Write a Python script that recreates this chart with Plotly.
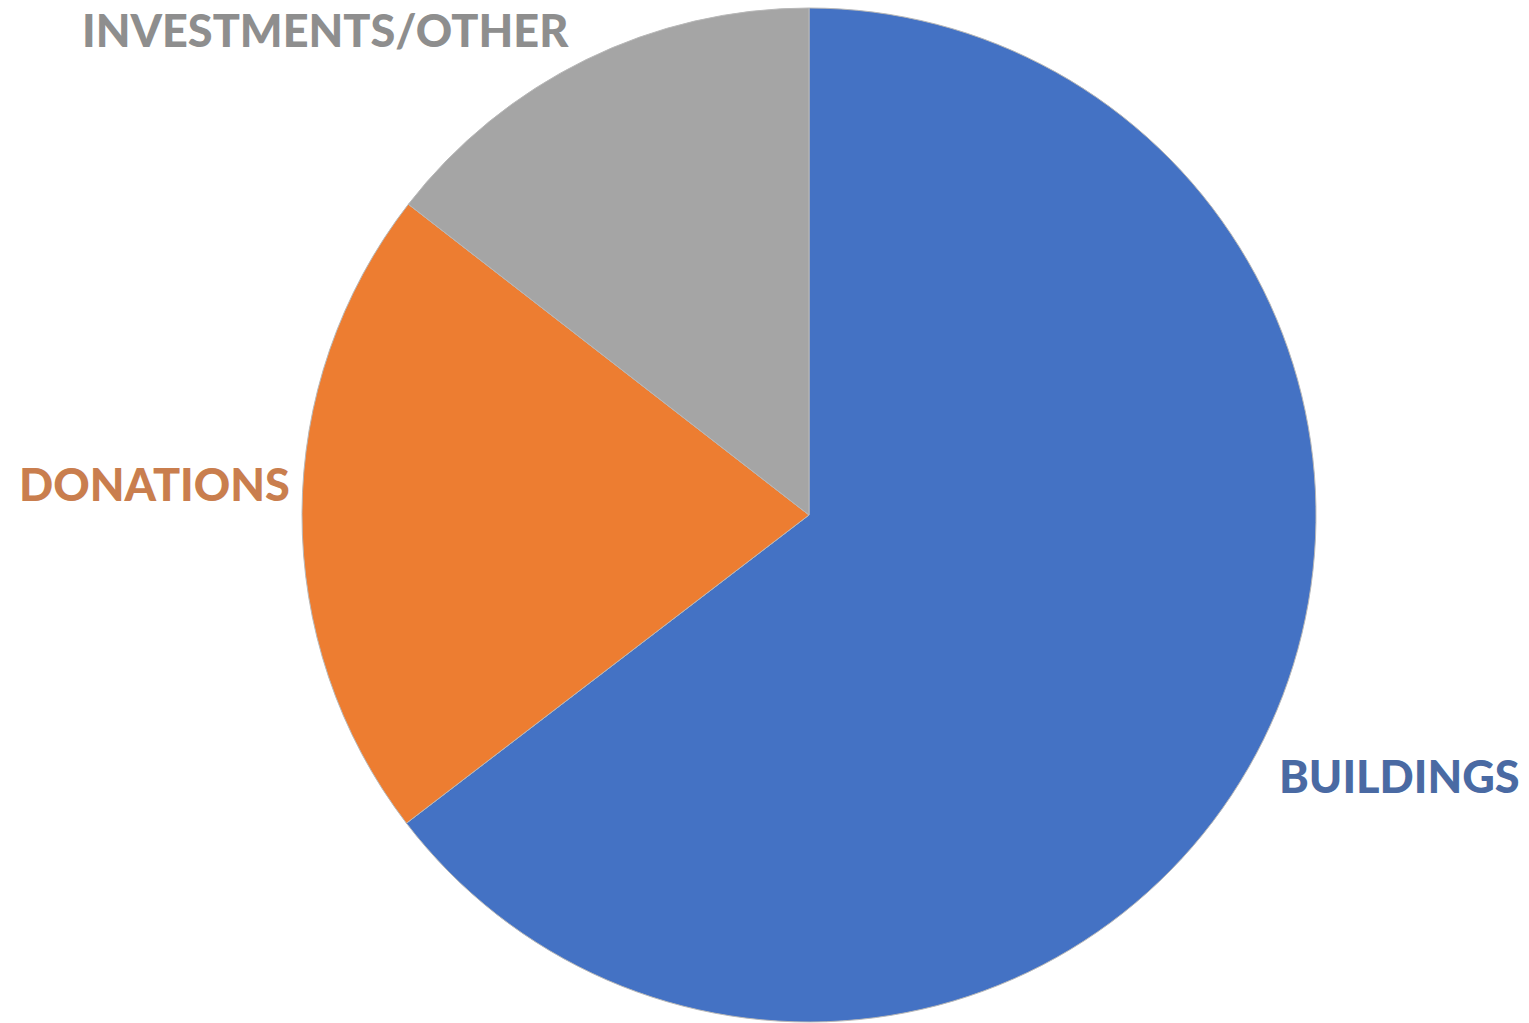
import plotly.graph_objects as go

categories = ["BUILDINGS", "DONATIONS", "INVESTMENTS/OTHER"]
values = [64.6, 20.9, 14.5]
slice_colors = ["#4472C4", "#ED7D31", "#A5A5A5"]
label_colors = ["#4A6AA3", "#C97E4E", "#8E8E8E"]

W, H = 1529, 1023
cx, cy, r = 809, 515, 507

fig = go.Figure(go.Pie(
    labels=categories,
    values=values,
    sort=False,
    direction="clockwise",
    rotation=0,
    marker=dict(colors=slice_colors, line=dict(color="#B8B8B8", width=1)),
    textinfo="none",
    hoverinfo="label+percent",
    showlegend=False,
    domain=dict(x=[(cx - r) / W, (cx + r) / W], y=[max(0, 1 - (cy + r) / H), min(1, 1 - (cy - r) / H)]),
))

label_pos = [(1399, 776), (154, 484), (325, 30)]
for name, col, (x, y) in zip(categories, label_colors, label_pos):
    fig.add_annotation(
        x=x / W, y=1 - y / H, xref="paper", yref="paper",
        text=name, showarrow=False, xanchor="center", yanchor="middle",
        font=dict(family="Lato", size=45, color=col, weight=900),
    )

fig.update_layout(
    width=W, height=H,
    margin=dict(l=0, r=0, t=0, b=0),
    paper_bgcolor="white", plot_bgcolor="white",
)

fig.write_html("out.html", config={"displayModeBar": False})
with open("out.html", encoding="utf-8") as f:
    html = f.read()
html = html.replace("<body>", '<body style="margin:0;overflow:hidden">', 1)
with open("out.html", "w", encoding="utf-8") as f:
    f.write(html)
